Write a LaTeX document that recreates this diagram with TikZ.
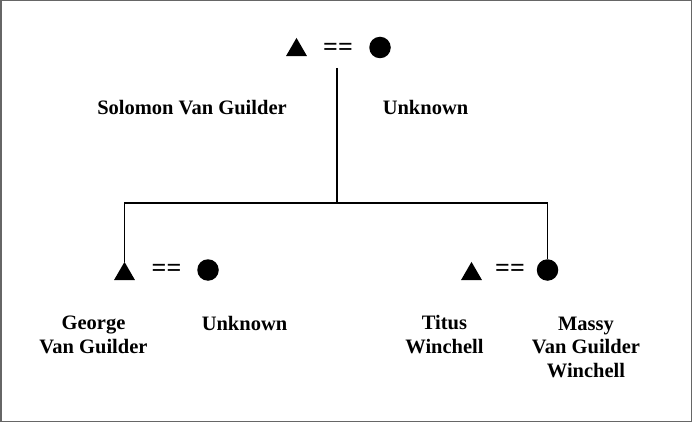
\documentclass[tikz,border=0pt]{standalone}
\usepackage{fontspec}
\setmainfont{Liberation Serif}
\usetikzlibrary{shapes.geometric}

\begin{document}
\begin{tikzpicture}[x=1pt,y=-1pt,
  male/.style={regular polygon, regular polygon sides=3, fill=black, inner sep=0pt, minimum size=24.2pt},
  female/.style={circle, fill=black, inner sep=0pt, minimum size=21.5pt},
  wed/.style={inner sep=0pt, font=\fontsize{26}{26}\selectfont\bfseries},
  who/.style={anchor=base, align=center, inner sep=0pt, font=\fontsize{20.5}{23.5}\selectfont\bfseries}]
       \useasboundingbox (0,0) rectangle (692,422);
       \draw[black!60, line width=1.5pt] (0.75,0.75) rectangle (691.25,421.25);
       \node[male] (solomon) at (296.5,50) {};
       \node[wed] (wed0) at (338,49) {==};
       \node[female] (wife0) at (380,47.5) {};
       \node[who] (nsolomon) at (192,115) {Solomon Van Guilder};
       \node[who] (nwife0) at (425.5,115) {Unknown};
       \node[male] (george) at (124.5,274) {};
       \node[wed] (wed1) at (166.5,270) {==};
       \node[female] (wife1) at (208,270) {};
       \node[who] (ngeorge) at (93.5,353) {George\\Van Guilder};
       \node[who] (nwife1) at (244.5,330) {Unknown};
       \node[male] (titus) at (471.5,274) {};
       \node[wed] (wed2) at (510,270) {==};
       \node[female] (massy) at (547.5,270) {};
       \node[who] (ntitus) at (444.5,353) {Titus\\Winchell};
       \node[who] (nmassy) at (586,377) {Massy\\Van Guilder\\Winchell};
       \coordinate (drop) at (337,68);
       \coordinate (sibs) at (337,203);
       \draw[black, line width=1.6pt] (drop) -- (sibs);
       \draw[black, line width=1.6pt] (george.corner 1) |- (sibs) -| (massy.north);
      \end{tikzpicture}
\end{document}
